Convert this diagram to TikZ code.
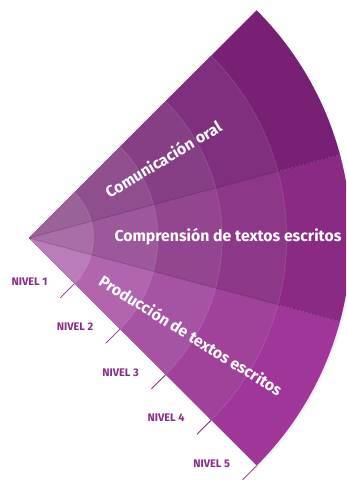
\documentclass[tikz,border=0pt]{standalone}
\usepackage{fontspec}
\setmainfont{Fira Sans}
\usetikzlibrary{calc}
\definecolor{t1}{HTML}{9B6299}
\definecolor{t2}{HTML}{8F4E8D}
\definecolor{t3}{HTML}{863F84}
\definecolor{t4}{HTML}{7F2F7D}
\definecolor{t5}{HTML}{782174}
\definecolor{m1}{HTML}{A96EA8}
\definecolor{m2}{HTML}{9D589B}
\definecolor{m3}{HTML}{93468F}
\definecolor{m4}{HTML}{8C3788}
\definecolor{m5}{HTML}{8A2A84}
\definecolor{b1}{HTML}{BB7DBA}
\definecolor{b2}{HTML}{B065AE}
\definecolor{b3}{HTML}{A653A3}
\definecolor{b4}{HTML}{A04299}
\definecolor{b5}{HTML}{A0369A}
\definecolor{nivelc}{HTML}{8A2B87}
\begin{document}
\begin{tikzpicture}[x=1pt,y=1pt,
  maintext/.style={text=white,font=\fontsize{15.8}{18}\selectfont\bfseries,inner sep=0pt},
  niveltext/.style={text=nivelc,font=\fontsize{11}{13}\selectfont\bfseries,inner sep=0pt},
  tickline/.style={draw=nivelc,line width=0.8pt},
  ringline/.style={draw=white,opacity=0.1,line width=1pt},
  divline/.style={draw=black,opacity=0.15,line width=1pt}]
\useasboundingbox (0,0) rectangle (346,482);
\clip (0,0) rectangle (346,482);
\fill[white] (0,0) rectangle (346,482);
\coordinate (A) at (29,244);
\def\R{64.4}
% soft shadow of the outer arc
\draw[black,opacity=0.05,line width=3pt] ($(A)+(-46:323)$) arc[start angle=-46,end angle=10,radius=323];
\foreach \k in {5,4,3,2,1}{
  \fill[t\k] (A) -- ++(15:\k*\R) arc[start angle=15,end angle=45,radius=\k*\R] -- cycle;
  \fill[m\k] (A) -- ++(-15:\k*\R) arc[start angle=-15,end angle=15,radius=\k*\R] -- cycle;
  \fill[b\k] (A) -- ++(-45:\k*\R) arc[start angle=-45,end angle=-15,radius=\k*\R] -- cycle;
}
\foreach \k in {1,2,3,4}{
  \draw[ringline] ($(A)+(-45:\k*\R)$) arc[start angle=-45,end angle=45,radius=\k*\R];
}
\coordinate (d1) at ($(A)+(15:321)$);
\coordinate (d2) at ($(A)+(-15:321)$);
\draw[divline] (A) -- (d1);
\draw[divline] (A) -- (d2);
\foreach \k in {1,...,5}{
  \coordinate (p\k) at ($(A)+(-45:\k*\R)$);
  \coordinate (q\k) at ($(p\k)+(-135:20)$);
  \draw[tickline] (p\k) -- (q\k);
  \node[niveltext] (n\k) at ($(p\k)+(-45,2)$) {NIVEL \k};
}
\node[maintext,rotate=31] (co) at (163,323) {Comunicación oral};
\node[maintext] (ct) at (228,245) {Comprensión de textos escritos};
\node[maintext,rotate=-32] (pt) at (191,147) {Producción de textos escritos};
\end{tikzpicture}
\end{document}
